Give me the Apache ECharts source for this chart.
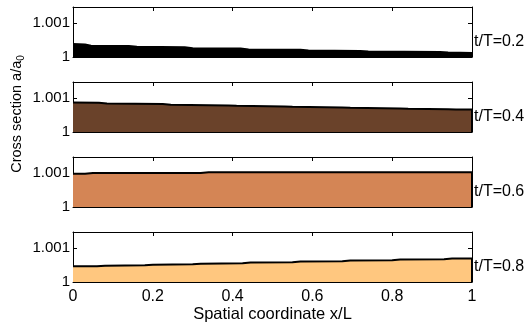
<!DOCTYPE html>
<html>
<head>
<meta charset="utf-8">
<script src="https://cdn.jsdelivr.net/npm/echarts@6/dist/echarts.min.js"></script>
<style>
  html, body { margin: 0; padding: 0; background: #fff; }
  #chart { width: 532px; height: 324px; }
</style>
</head>
<body>
<div id="chart"></div>
<script>
// one panel per time t/T, values are a/a0
const panelTimes = ['0.2', '0.4', '0.6', '0.8']
const fillColors = ['#000000', '#6a422a', '#d48555', '#ffc77f']

const x02 = [0, 0.03, 0.045, 0.14, 0.16, 0.28, 0.30, 0.42, 0.44, 0.57, 0.59, 0.72, 0.74, 0.92, 0.94, 1]
const a02 = [1.00038, 1.00037, 1.00033, 1.00032, 1.00030, 1.00029, 1.00026, 1.00025, 1.00022, 1.00021, 1.00019, 1.00018, 1.00016, 1.00015, 1.00013, 1.00012]

const x04 = [0, 0.065, 0.085, 0.225, 0.245, 0.39, 0.41, 0.53, 0.55, 0.675, 0.695, 0.82, 0.84, 0.94, 0.96, 1]
const a04 = [1.00087, 1.00086, 1.00084, 1.00082, 1.00080, 1.00078, 1.00077, 1.00075, 1.00074, 1.00072, 1.00071, 1.00069, 1.00068, 1.00067, 1.00066, 1.00066]

const x06 = [0, 0.03, 0.05, 0.32, 0.34, 1]
const a06 = [1.00098, 1.00098, 1.001, 1.001, 1.00102, 1.00102]

const x08 = [0, 0.06, 0.08, 0.18, 0.20, 0.30, 0.32, 0.425, 0.445, 0.55, 0.57, 0.675, 0.695, 0.80, 0.82, 0.93, 0.95, 1]
const a08 = [1.00046, 1.00046, 1.00048, 1.00049, 1.00051, 1.00052, 1.00054, 1.00055, 1.00057, 1.00058, 1.00060, 1.00061, 1.00063, 1.00064, 1.00066, 1.00067, 1.00069, 1.00069]

const panelX = [x02, x04, x06, x08]
const panelA = [a02, a04, a06, a08]

const FONT = '"Liberation Sans", Arial, sans-serif'
const tops = [7, 82, 157, 232]
const H = 50

const chart = echarts.init(document.getElementById('chart'))

const axisLine = { show: true, onZero: false, lineStyle: { color: '#000', width: 1 } }
const axisTick = { show: true, inside: true, length: 4, lineStyle: { color: '#000' } }

const grid = tops.map(t => ({ left: 73, right: 60, top: t, height: H }))
const xAxis = []
const yAxis = []
const series = []

tops.forEach((t, i) => {
  xAxis.push({
    type: 'value', gridIndex: i, position: 'bottom', min: 0, max: 1, interval: 0.2,
    axisLine, axisTick, splitLine: { show: false },
    axisLabel: { show: i === 3, color: '#000', fontSize: 16, fontFamily: FONT, margin: 7 },
    name: i === 3 ? 'Spatial coordinate x/L' : '',
    nameLocation: 'middle', nameGap: 24,
    nameTextStyle: { color: '#000', fontSize: 16.5, fontFamily: FONT }
  })
  xAxis.push({
    type: 'value', gridIndex: i, position: 'top', min: 0, max: 1, interval: 0.2,
    axisLine, axisTick, splitLine: { show: false }, axisLabel: { show: false }
  })
  yAxis.push({
    type: 'value', gridIndex: i, position: 'left', min: 1, max: 1.00147, interval: 0.001,
    axisLine, axisTick, splitLine: { show: false },
    axisLabel: {
      color: '#000', fontSize: 15, fontFamily: FONT, margin: 3,
      showMaxLabel: false,
      formatter: v => (v < 1.0005 ? '1' : '1.001')
    }
  })
  yAxis.push({
    type: 'value', gridIndex: i, position: 'right', min: 1, max: 1.00147, interval: 0.001,
    axisLine, axisTick, splitLine: { show: false }, axisLabel: { show: false }
  })
  const xs = panelX[i]
  const as = panelA[i]
  series.push({
    type: 'line',
    xAxisIndex: 2 * i,
    yAxisIndex: 2 * i,
    data: xs.map((x, k) => [x, as[k]]),
    symbol: 'none',
    lineStyle: { color: '#000', width: 2 },
    areaStyle: { color: fillColors[i], opacity: 1, origin: 'start' },
    markLine: {
      silent: true, symbol: 'none', animation: false,
      label: { show: false },
      lineStyle: { color: '#000', width: 2, type: 'solid' },
      data: [[{ coord: [xs[xs.length - 1], 1] }, { coord: [xs[xs.length - 1], as[as.length - 1]] }]]
    }
  })
})

const graphic = [{
  type: 'text', x: 17, y: 114, rotation: Math.PI / 2,
  style: {
    text: '{a|Cross section a/a}{b|0}',
    align: 'center', verticalAlign: 'middle', fill: '#000',
    rich: {
      a: { fontSize: 14.5, fontFamily: FONT, lineHeight: 15, verticalAlign: 'top', fill: '#000' },
      b: { fontSize: 10, fontFamily: FONT, lineHeight: 10, verticalAlign: 'top', padding: [7, 0, 0, 0], fill: '#000' }
    }
  }
}]
tops.forEach((t, i) => {
  graphic.push({
    type: 'text', x: 474, y: t + 35,
    style: {
      text: 't/T=' + panelTimes[i], fill: '#000',
      font: '16px ' + FONT, align: 'left', verticalAlign: 'middle'
    }
  })
})

chart.setOption({
  animation: false,
  backgroundColor: '#fff',
  grid, xAxis, yAxis, series, graphic
})
</script>
</body>
</html>
